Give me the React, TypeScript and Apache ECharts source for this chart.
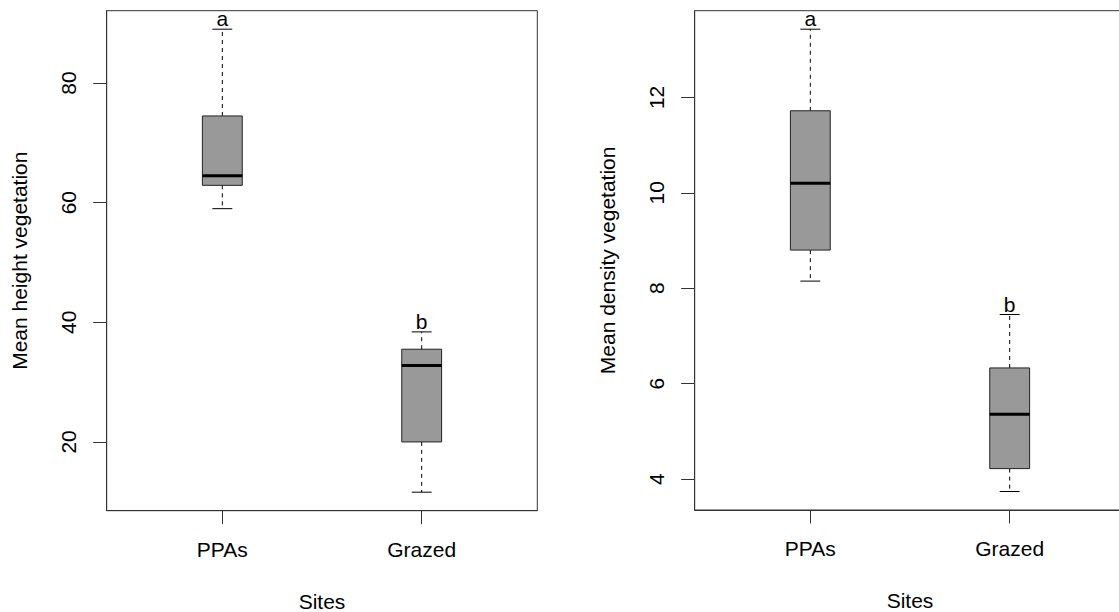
import React, { useEffect, useRef } from 'react';
import * as echarts from 'echarts';

// two R-style boxplots side by side
const sites = ['PPAs', 'Grazed'];

// [min, q1, median, q3, max]
const heightStats = [
  [59.0, 62.9, 64.5, 74.5, 89.0],
  [11.6, 20.0, 32.8, 35.5, 38.4],
];
const densityStats = [
  [8.15, 8.8, 10.2, 11.72, 13.43],
  [3.74, 4.22, 5.36, 6.33, 7.45],
];

const heightLetters = ['a', 'b'];
const densityLetters = ['a', 'b'];

const heightTicks = [20, 40, 60, 80];
const densityTicks = [4, 6, 8, 10, 12];

const FONT = 'Liberation Sans, Arial, sans-serif';
const FS = 21;
const BOX_W = 0.2;

// R pads the data range by 4% on each side
const padRange = (stats: number[][]) => {
  const lo = Math.min(...stats.map(s => s[0]));
  const hi = Math.max(...stats.map(s => s[4]));
  const d = (hi - lo) * 0.04;
  return { min: lo - d, max: hi + d };
};

const makeRenderItem = (letters: string[]) => (params: any, api: any) => {
  const x = api.value(0);
  const vmin = api.value(1);
  const q1 = api.value(2);
  const med = api.value(3);
  const q3 = api.value(4);
  const vmax = api.value(5);
  const pMin = api.coord([x, vmin]);
  const pQ1 = api.coord([x, q1]);
  const pMed = api.coord([x, med]);
  const pQ3 = api.coord([x, q3]);
  const pMax = api.coord([x, vmax]);
  const half = api.size([BOX_W, 0])[0] / 2;
  const cap = half / 2;
  const cx = pMed[0];
  const dashed = { stroke: '#000', lineWidth: 1, lineDash: [4, 4] };
  const solid = { stroke: '#000', lineWidth: 1 };
  return {
    type: 'group',
    children: [
      { type: 'line', shape: { x1: cx, y1: pQ3[1], x2: cx, y2: pMax[1] }, style: dashed },
      { type: 'line', shape: { x1: cx, y1: pQ1[1], x2: cx, y2: pMin[1] }, style: dashed },
      { type: 'line', shape: { x1: cx - cap, y1: pMax[1], x2: cx + cap, y2: pMax[1] }, style: solid },
      { type: 'line', shape: { x1: cx - cap, y1: pMin[1], x2: cx + cap, y2: pMin[1] }, style: solid },
      {
        type: 'rect',
        shape: { x: cx - half, y: pQ3[1], width: half * 2, height: pQ1[1] - pQ3[1] },
        style: { fill: '#999999', stroke: '#222', lineWidth: 1 },
      },
      { type: 'line', shape: { x1: cx - half, y1: pMed[1], x2: cx + half, y2: pMed[1] }, style: { stroke: '#000', lineWidth: 3 } },
      {
        type: 'text',
        x: cx,
        y: pMax[1],
        style: {
          text: letters[params.dataIndex],
          fontSize: FS,
          fontFamily: FONT,
          fill: '#000',
          align: 'center',
          verticalAlign: 'bottom',
        },
      },
    ],
  };
};

const xAxisFor = (gridIndex: number) => ({
  type: 'value',
  gridIndex,
  min: 0.42,
  max: 2.58,
  name: 'Sites',
  nameLocation: 'middle',
  nameGap: 80,
  nameTextStyle: { fontSize: FS, fontFamily: FONT, color: '#000' },
  axisLine: { show: true, lineStyle: { color: '#333' } },
  axisTick: { show: true, length: 13.5, customValues: [1, 2], lineStyle: { color: '#333' } },
  axisLabel: {
    customValues: [1, 2],
    formatter: (v: number) => sites[Math.round(v) - 1] ?? '',
    margin: 28,
    fontSize: FS,
    fontFamily: FONT,
    color: '#000',
  },
  splitLine: { show: false },
});

const yAxisFor = (gridIndex: number, name: string, stats: number[][], ticks: number[]) => ({
  type: 'value',
  gridIndex,
  ...padRange(stats),
  name,
  nameLocation: 'middle',
  nameGap: 77,
  nameTextStyle: { fontSize: FS, fontFamily: FONT, color: '#000' },
  axisLine: { show: true, lineStyle: { color: '#333' } },
  axisTick: { show: true, length: 13.5, customValues: ticks, lineStyle: { color: '#333' } },
  axisLabel: {
    customValues: ticks,
    rotate: 90,
    margin: 28,
    fontSize: FS,
    fontFamily: FONT,
    color: '#000',
  },
  splitLine: { show: false },
});

const App: React.FC = () => {
  const chartRef = useRef<HTMLDivElement | null>(null);

  useEffect(() => {
    if (!chartRef.current) return;
    const chart = echarts.init(chartRef.current, undefined, { renderer: 'svg' });

    const gridBase = {
      top: 10.7,
      width: 430.6,
      show: true,
      borderColor: '#333',
      borderWidth: 1,
      containLabel: false,
      outerBoundsMode: 'none',
    };

    const option = {
      animation: false,
      backgroundColor: '#fff',
      grid: [
        { ...gridBase, left: 106.7, height: 500 },
        { ...gridBase, left: 694.7, height: 499.3 },
      ],
      xAxis: [xAxisFor(0), xAxisFor(1)],
      yAxis: [
        yAxisFor(0, 'Mean height vegetation', heightStats, heightTicks),
        yAxisFor(1, 'Mean density vegetation', densityStats, densityTicks),
      ],
      series: [
        {
          type: 'custom',
          name: 'height',
          xAxisIndex: 0,
          yAxisIndex: 0,
          renderItem: makeRenderItem(heightLetters),
          encode: { x: 0, y: [1, 2, 3, 4, 5] },
          data: heightStats.map((s, i) => [i + 1, ...s]),
        },
        {
          type: 'custom',
          name: 'density',
          xAxisIndex: 1,
          yAxisIndex: 1,
          renderItem: makeRenderItem(densityLetters),
          encode: { x: 0, y: [1, 2, 3, 4, 5] },
          data: densityStats.map((s, i) => [i + 1, ...s]),
        },
      ],
    };

    chart.setOption(option);

    return () => {
      chart.dispose();
    };
  }, []);

  return (
    <div
      ref={chartRef}
      style={{ position: 'fixed', left: 0, top: 0, width: '1119px', height: '612px' }}
    />
  );
};

export default App;
